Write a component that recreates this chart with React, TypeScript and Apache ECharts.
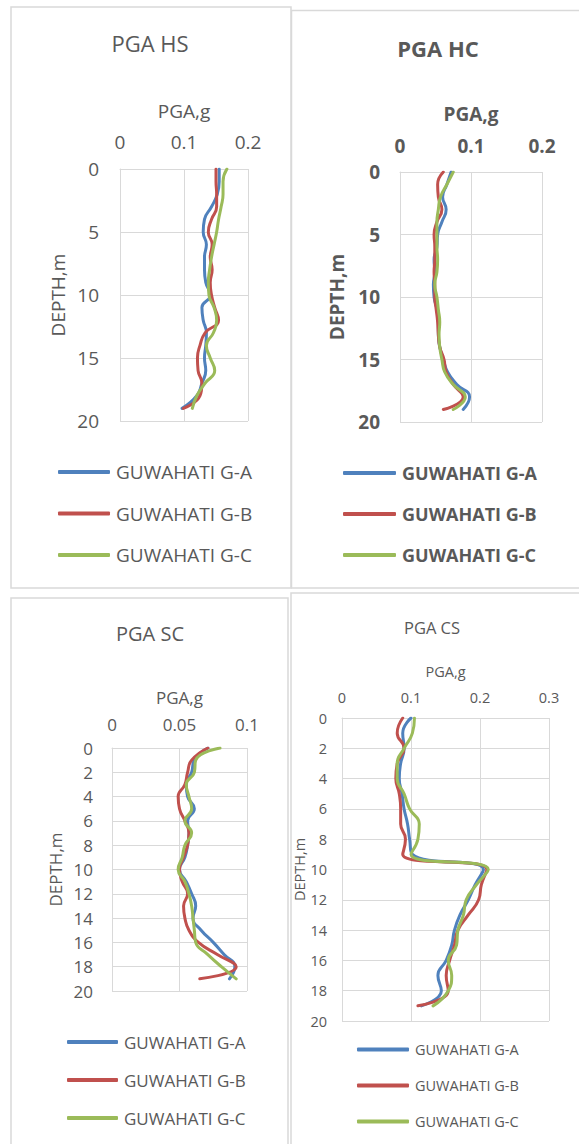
import React, { useEffect, useRef } from "react";
import * as echarts from "echarts";

// ---------- DATA ----------
const depths = [0, 1, 2, 3, 4, 5, 6, 7, 8, 9, 10, 11, 12, 13, 14, 15, 16, 17, 18, 19];
const seriesNames = ["GUWAHATI G-A", "GUWAHATI G-B", "GUWAHATI G-C"];
const panelTitles = ["PGA HS", "PGA HC", "PGA SC", "PGA CS"];
const xAxisName = "PGA,g";
const yAxisName = "DEPTH,m";

// PGA HS
const hsA = [0.155, 0.155, 0.152, 0.143, 0.132, 0.13, 0.135, 0.132, 0.132, 0.134, 0.141, 0.128, 0.13, 0.135, 0.134, 0.132, 0.134, 0.128, 0.12, 0.097];
const hsB = [0.15, 0.15, 0.151, 0.151, 0.143, 0.138, 0.144, 0.141, 0.144, 0.141, 0.143, 0.148, 0.154, 0.133, 0.125, 0.121, 0.122, 0.128, 0.125, 0.099];
const hsC = [0.167, 0.161, 0.161, 0.158, 0.154, 0.151, 0.147, 0.143, 0.14, 0.138, 0.139, 0.147, 0.151, 0.146, 0.135, 0.141, 0.148, 0.133, 0.12, 0.113];
// PGA HC
const hcA = [0.072, 0.066, 0.06, 0.065, 0.059, 0.053, 0.052, 0.048, 0.049, 0.047, 0.048, 0.052, 0.054, 0.054, 0.056, 0.061, 0.067, 0.08, 0.098, 0.089];
const hcB = [0.061, 0.053, 0.054, 0.059, 0.052, 0.048, 0.049, 0.049, 0.048, 0.049, 0.049, 0.051, 0.053, 0.054, 0.056, 0.062, 0.065, 0.075, 0.089, 0.061];
const hcC = [0.075, 0.066, 0.057, 0.054, 0.052, 0.052, 0.052, 0.053, 0.052, 0.049, 0.052, 0.054, 0.056, 0.055, 0.056, 0.059, 0.063, 0.075, 0.092, 0.075];
// PGA SC
const scA = [0.071, 0.061, 0.059, 0.055, 0.056, 0.061, 0.056, 0.057, 0.056, 0.054, 0.05, 0.055, 0.059, 0.062, 0.06, 0.066, 0.075, 0.083, 0.091, 0.087];
const scB = [0.071, 0.059, 0.056, 0.054, 0.049, 0.05, 0.054, 0.057, 0.056, 0.053, 0.05, 0.052, 0.056, 0.053, 0.054, 0.057, 0.064, 0.078, 0.092, 0.065];
const scC = [0.08, 0.062, 0.061, 0.055, 0.057, 0.059, 0.054, 0.059, 0.054, 0.052, 0.049, 0.054, 0.057, 0.059, 0.06, 0.061, 0.062, 0.071, 0.081, 0.092];
// PGA CS
const csA = [0.1, 0.088, 0.09, 0.085, 0.083, 0.087, 0.09, 0.095, 0.098, 0.102, 0.205, 0.193, 0.183, 0.171, 0.163, 0.159, 0.151, 0.139, 0.144, 0.115];
const csB = [0.088, 0.08, 0.09, 0.08, 0.078, 0.083, 0.085, 0.085, 0.092, 0.088, 0.21, 0.202, 0.198, 0.183, 0.168, 0.163, 0.156, 0.151, 0.154, 0.11];
const csC = [0.105, 0.102, 0.09, 0.08, 0.08, 0.09, 0.098, 0.112, 0.11, 0.1, 0.212, 0.195, 0.18, 0.176, 0.168, 0.166, 0.154, 0.159, 0.154, 0.132];

const panelData = [
  [hsA, hsB, hsC],
  [hcA, hcB, hcC],
  [scA, scB, scC],
  [csA, csB, csC],
];
const xMaxes = [0.2, 0.2, 0.1, 0.3];
const xIntervals = [0.1, 0.1, 0.05, 0.1];
const yMax = 20;
const yIntervals = [5, 5, 2, 2];

// ---------- LAYOUT / STYLE ----------
const colors = ["#4F81BD", "#C0504D", "#9BBB59"];
const textColor = "#595959";
const gridColor = "#d9d9d9";
const FONT = "'Open Sans', 'Noto Sans', sans-serif";

const layouts = [
  {
    grid: { left: 120, top: 169, width: 128, height: 252 },
    font: 19, bold: false, titleFont: 22, titlePos: [150, 43],
    xNameGap: 48.5, xLabelMargin: 17.5, yLabelMargin: 21, yNameGap: 52.5,
    legend: { left: 58, top: 462.5, itemWidth: 52, itemGap: 22.5, font: 19 },
    border: [11, 7, 280, 581],
  },
  {
    grid: { left: 400, top: 172, width: 142, height: 250 },
    font: 19, bold: true, titleFont: 22, titlePos: [438, 48],
    xNameGap: 48.5, xLabelMargin: 16.5, yLabelMargin: 20, yNameGap: 53.5,
    legend: { left: 343, top: 464, itemWidth: 53, itemGap: 23, font: 18 },
    border: [291.5, 10.5, 300, 577.5],
  },
  {
    grid: { left: 112, top: 748, width: 135, height: 243 },
    font: 17, bold: false, titleFont: 20, titlePos: [150, 633],
    xNameGap: 42.5, xLabelMargin: 15.5, yLabelMargin: 19, yNameGap: 48.5,
    legend: { left: 67, top: 1033.5, itemWidth: 51, itemGap: 21, font: 17 },
    border: [11, 598, 277, 600],
  },
  {
    grid: { left: 342, top: 718, width: 207, height: 303 },
    font: 14.5, bold: false, titleFont: 16.5, titlePos: [432, 627],
    xNameGap: 39, xLabelMargin: 13, yLabelMargin: 15, yNameGap: 33,
    legend: { left: 357, top: 1042, itemWidth: 52, itemGap: 21, font: 14.5 },
    border: [291, 593, 300, 600],
  },
];

function buildOption() {
  const grids: any[] = [];
  const xAxes: any[] = [];
  const yAxes: any[] = [];
  const series: any[] = [];
  const legends: any[] = [];
  const graphics: any[] = [];

  layouts.forEach((L, i) => {
    const weight = L.bold ? "bold" : "normal";
    grids.push({ ...L.grid, containLabel: false });
    xAxes.push({
      type: "value",
      gridIndex: i,
      position: "top",
      min: 0,
      max: xMaxes[i],
      interval: xIntervals[i],
      name: xAxisName,
      nameLocation: "middle",
      nameGap: L.xNameGap,
      nameTextStyle: { fontSize: L.font, color: textColor, fontFamily: FONT, fontWeight: weight },
      axisLine: { show: true, lineStyle: { color: gridColor, width: 1 } },
      axisTick: { show: false },
      axisLabel: { margin: L.xLabelMargin, fontSize: L.font, color: textColor, fontFamily: FONT, fontWeight: weight },
      splitLine: { show: true, lineStyle: { color: gridColor, width: 1 } },
    });
    yAxes.push({
      type: "value",
      gridIndex: i,
      inverse: true,
      min: 0,
      max: yMax,
      interval: yIntervals[i],
      name: yAxisName,
      nameLocation: "middle",
      nameGap: L.yNameGap,
      nameTextStyle: { fontSize: L.font, color: textColor, fontFamily: FONT, fontWeight: weight },
      axisLine: { show: true, lineStyle: { color: gridColor, width: 1 } },
      axisTick: { show: false },
      axisLabel: { margin: L.yLabelMargin, fontSize: L.font, color: textColor, fontFamily: FONT, fontWeight: weight },
      splitLine: { show: true, lineStyle: { color: gridColor, width: 1 } },
    });
    panelData[i].forEach((vals, j) => {
      series.push({
        type: "line",
        name: seriesNames[j],
        xAxisIndex: i,
        yAxisIndex: i,
        data: depths.map((d, k) => [vals[k], d]),
        smooth: 0.5,
        symbol: "none",
        showSymbol: false,
        lineStyle: { width: 3, color: colors[j], cap: "round", join: "round" },
        itemStyle: { color: colors[j] },
        silent: true,
      });
    });
    legends.push({
      orient: "vertical",
      left: L.legend.left,
      top: L.legend.top,
      padding: 0,
      itemWidth: L.legend.itemWidth,
      itemHeight: 4,
      itemGap: L.legend.itemGap,
      icon: "roundRect",
      selectedMode: false,
      data: seriesNames,
      textStyle: { fontSize: L.legend.font, color: textColor, fontFamily: FONT, fontWeight: weight, padding: [0, 0, 0, 1] },
    });
    const [bx, by, bw, bh] = L.border;
    graphics.push({
      type: "rect",
      shape: { x: bx, y: by, width: bw, height: bh },
      style: { fill: "none", stroke: gridColor, lineWidth: 1.5 },
      silent: true,
      z: -1,
    });
    graphics.push({
      type: "text",
      x: L.titlePos[0],
      y: L.titlePos[1],
      style: {
        text: panelTitles[i],
        fill: textColor,
        font: `${weight} ${L.titleFont}px ${FONT}`,
        textAlign: "center",
        textVerticalAlign: "middle",
      },
      silent: true,
    });
  });

  return {
    animation: false,
    backgroundColor: "#ffffff",
    color: colors,
    grid: grids,
    xAxis: xAxes,
    yAxis: yAxes,
    series,
    legend: legends,
    graphic: graphics,
  };
}

export default function App() {
  const ref = useRef<HTMLDivElement>(null);
  useEffect(() => {
    if (!ref.current) return;
    const chart = echarts.init(ref.current, null, { renderer: "svg" });
    chart.setOption(buildOption() as any);
    return () => chart.dispose();
  }, []);
  return (
    <div
      ref={ref}
      style={{ position: "absolute", left: 0, top: 0, width: 579, height: 1144, background: "#fff" }}
    />
  );
}
